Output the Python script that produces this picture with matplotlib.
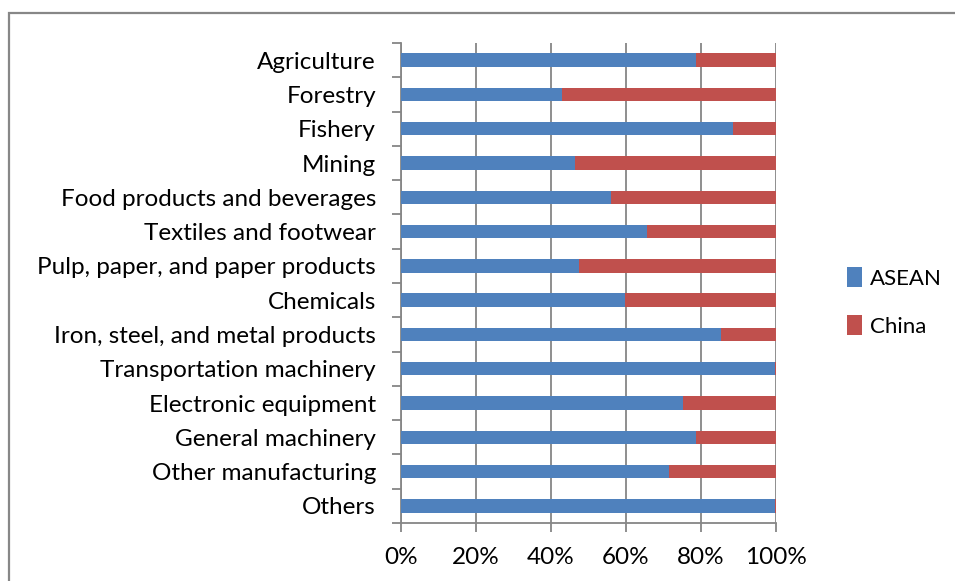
import matplotlib
matplotlib.use("Agg")
import matplotlib.pyplot as plt
import numpy as np
from matplotlib.patches import Rectangle

plt.rcParams['font.family'] = ['Lato', 'DejaVu Sans']

sectors = ["Agriculture", "Forestry", "Fishery", "Mining",
           "Food products and beverages", "Textiles and footwear",
           "Pulp, paper, and paper products", "Chemicals",
           "Iron, steel, and metal products", "Transportation machinery",
           "Electronic equipment", "General machinery",
           "Other manufacturing", "Others"]
# share of each sector (percent)
asean = np.array([78.6, 43.0, 88.6, 46.4, 56.0, 65.7, 47.5,
                  59.6, 85.3, 99.6, 75.3, 78.6, 71.5, 99.8])
china = 100 - asean

BLUE = "#4F81BD"
RED = "#C0504D"
GRAY = "#868686"
FS = 17.5

fig = plt.figure(figsize=(9.55, 5.81), dpi=100)
# outer chart frame
fig.patches.append(Rectangle((9 / 955, -0.05), 1.2, (581 - 13) / 581 + 0.05,
                             transform=fig.transFigure, fill=False,
                             edgecolor="#878787", linewidth=1.6))

ax = fig.add_axes([401 / 955, 58 / 581, 375 / 955, 480 / 581])

y = np.arange(len(sectors))[::-1]
ax.barh(y, asean, height=0.39, color=BLUE, label="ASEAN", zorder=3)
ax.barh(y, china, left=asean, height=0.39, color=RED, label="China", zorder=3)

ax.set_xlim(0, 100)
ax.set_ylim(-0.5, len(sectors) - 0.5)
ax.set_xticks(np.arange(0, 101, 20))
ax.set_xticklabels([f"{v}%" for v in range(0, 101, 20)])
ax.set_yticks(y)
ax.set_yticklabels(sectors)
ax.set_yticks(np.arange(-0.5, len(sectors), 1.0), minor=True)

ax.grid(axis="x", color=GRAY, linewidth=1.3, zorder=0)
for side in ["top", "right"]:
    ax.spines[side].set_visible(False)
for side in ["left", "bottom"]:
    ax.spines[side].set_color(GRAY)
    ax.spines[side].set_linewidth(1.3)

ax.tick_params(axis="y", which="major", length=0, pad=18, labelsize=FS)
ax.tick_params(axis="y", which="minor", length=6.5, width=1.3, color=GRAY)
ax.tick_params(axis="x", length=6.5, width=1.3, color=GRAY, pad=11, labelsize=FS)

ax.legend(loc="center left", bbox_to_anchor=(838 / 955, (581 - 302) / 581),
          bbox_transform=fig.transFigure, frameon=False, fontsize=16,
          handlelength=0.7, handleheight=1.0, handletextpad=0.35,
          labelspacing=1.2, borderaxespad=0)

fig.savefig("out.png", dpi=100)
